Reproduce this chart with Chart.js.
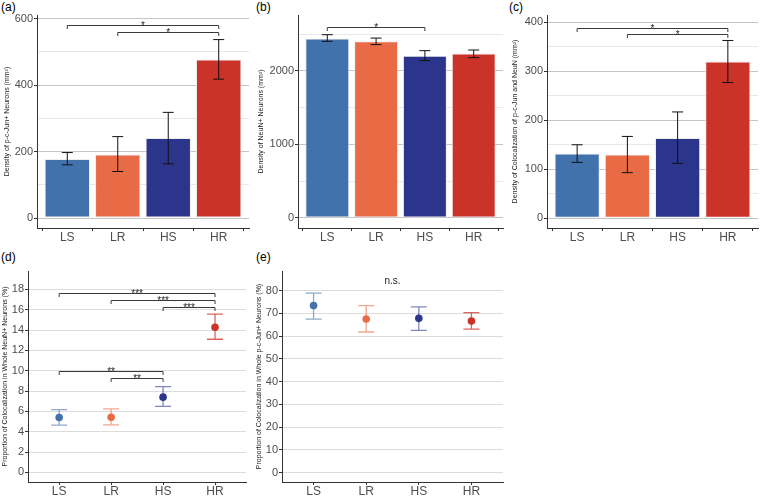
<!DOCTYPE html>
<html>
<head>
<meta charset="utf-8">
<script src="https://cdn.jsdelivr.net/npm/chart.js@4"></script>
<style>
  body { margin: 0; background: #fff; }
  #page { position: relative; width: 760px; height: 496px; overflow: hidden; }
  .panel { position: absolute; }
  .tag { position: absolute; font: 12px "Liberation Sans", Arial, sans-serif; color: #000; }
</style>
</head>
<body>
<div id="page">
  <div class="tag" style="left:1px;top:0px">(a)</div>
  <div class="tag" style="left:256px;top:0px">(b)</div>
  <div class="tag" style="left:509px;top:0px">(c)</div>
  <div class="tag" style="left:1px;top:250px">(d)</div>
  <div class="tag" style="left:256px;top:250px">(e)</div>
</div>
<script>
const categories = ['LS', 'LR', 'HS', 'HR'];
const groupColors = ['#4272ac', '#e96b45', '#2c358c', '#cb3328'];
const groupErrColors = ['rgba(66,114,172,0.6)', 'rgba(233,107,69,0.6)', 'rgba(44,53,140,0.6)', 'rgba(203,51,40,0.75)'];

// (a) p-c-Jun+ density
const aMeans = [178, 191, 241, 477];
const aLow = [160, 140, 163, 418];
const aHigh = [197, 245, 318, 537];
const aBrackets = [['LS', 'HR', 581, '*'], ['LR', 'HR', 559, '*']];

// (b) NeuN+ density
const bMeans = [2442, 2402, 2207, 2235];
const bLow = [2402, 2357, 2140, 2180];
const bHigh = [2492, 2446, 2275, 2284];
const bBrackets = [['LS', 'HS', 2596, '*']];

// (c) colocalization density
const cMeans = [132, 130, 164, 320];
const cLow = [114, 93, 112, 277];
const cHigh = [150, 167, 217, 363];
const cBrackets = [['LS', 'HR', 388, '*'], ['LR', 'HR', 376, '*']];

// (d) proportion in NeuN+
const dMeans = [5.4, 5.43, 7.4, 14.27];
const dLow = [4.65, 4.68, 6.5, 13.09];
const dHigh = [6.18, 6.25, 8.44, 15.57];
const dBrackets = [['LS', 'HR', 17.67, '***'], ['LR', 'HR', 16.95, '***'], ['HS', 'HR', 16.29, '***'],
                   ['LS', 'HS', 10.0, '**'], ['LR', 'HS', 9.26, '**']];

// (e) proportion in p-c-Jun+
const eMeans = [73.4, 67.5, 67.8, 66.6];
const eLow = [67.5, 61.8, 62.5, 63.1];
const eHigh = [78.9, 73.4, 72.8, 70.3];
const eNote = ['LR', 'HS', 83.9, 'n.s.'];

const FONT = '"Liberation Sans", Arial, sans-serif';

// error bars + significance brackets, all positioned through the chart scales
const annotate = {
    id: 'annotate',
    draw(chart) {
        const o = chart.options.plugins.annotate;
        const x = chart.scales.x, y = chart.scales.y;
        const ctx = chart.ctx;
        ctx.save();
        o.low.forEach((lo, i) => {
            const px = x.getPixelForValue(i + 1);
            const y0 = y.getPixelForValue(lo), y1 = y.getPixelForValue(o.high[i]);
            ctx.strokeStyle = o.errColors ? o.errColors[i] : '#111';
            ctx.lineWidth = o.errWidth;
            ctx.beginPath();
            ctx.moveTo(px, y0); ctx.lineTo(px, y1);
            ctx.moveTo(px - o.cap / 2, y0); ctx.lineTo(px + o.cap / 2, y0);
            ctx.moveTo(px - o.cap / 2, y1); ctx.lineTo(px + o.cap / 2, y1);
            ctx.stroke();
        });
        ctx.strokeStyle = '#3a3a3a';
        ctx.fillStyle = '#222';
        ctx.lineWidth = 1;
        ctx.font = '10px ' + FONT;
        ctx.textAlign = 'center';
        (o.brackets || []).forEach(([from, to, v, label]) => {
            const x0 = x.getPixelForValue(categories.indexOf(from) + 1);
            const x1 = x.getPixelForValue(categories.indexOf(to) + 1);
            const py = Math.round(y.getPixelForValue(v)) + 0.5;
            ctx.beginPath();
            ctx.moveTo(x0, py + 3.5); ctx.lineTo(x0, py); ctx.lineTo(x1, py); ctx.lineTo(x1, py + 3.5);
            ctx.stroke();
            ctx.textBaseline = 'alphabetic';
            ctx.fillText(label, (x0 + x1) / 2, py + 3.5);
        });
        if (o.note) {
            const [from, to, v, label] = o.note;
            const xm = (x.getPixelForValue(categories.indexOf(from) + 1) + x.getPixelForValue(categories.indexOf(to) + 1)) / 2;
            ctx.textBaseline = 'middle';
            ctx.fillText(label, xm, y.getPixelForValue(v));
        }
        ctx.restore();
    },
    beforeDatasetsDraw(chart) { if (!chart.options.plugins.annotate.onTop) this.draw(chart); },
    afterDatasetsDraw(chart) { if (chart.options.plugins.annotate.onTop) this.draw(chart); }
};

function makePanel(p) {
    const box = document.createElement('div');
    box.className = 'panel';
    Object.assign(box.style, { left: p.cx + 'px', top: p.cy + 'px', width: p.cw + 'px', height: p.ch + 'px' });
    const canvas = document.createElement('canvas');
    canvas.width = p.cw; canvas.height = p.ch;
    box.appendChild(canvas);
    document.getElementById('page').appendChild(box);

    const isMajor = v => p.major.includes(v);
    const isBar = p.kind === 'bar';
    const data = p.means.map((m, i) => ({ x: i + 1, y: m }));

    new Chart(canvas, {
        type: isBar ? 'bar' : 'scatter',
        data: {
            datasets: [{
                data,
                backgroundColor: groupColors,
                borderColor: isBar ? 'rgba(235,235,235,0.9)' : groupColors,
                borderWidth: isBar ? 1 : 0,
                borderSkipped: false,
                barPercentage: 0.9,
                categoryPercentage: 1.0,
                pointRadius: 3.8,
                pointHoverRadius: 3.8
            }]
        },
        options: {
            responsive: false,
            animation: false,
            events: [],
            layout: { padding: { top: p.pt - p.cy, right: p.cx + p.cw - p.pr, left: 0, bottom: 0 } },
            plugins: {
                legend: { display: false },
                tooltip: { enabled: false },
                annotate: {
                    low: p.low, high: p.high, brackets: p.brackets, note: p.note,
                    cap: isBar ? 11 : 16, errWidth: isBar ? 1 : 1.3,
                    errColors: isBar ? null : groupErrColors, onTop: isBar
                }
            },
            scales: {
                x: {
                    type: 'linear', min: 0.4, max: 4.6, offset: false,
                    afterBuildTicks: s => { s.ticks = categories.map((c, i) => ({ value: i + 1 })); },
                    afterFit: s => { s.height = p.cy + p.ch - p.pb; },
                    ticks: { autoSkip: false, maxRotation: 0, padding: -1, color: '#4d4d4d',
                             font: { family: FONT, size: 12 }, callback: v => categories[v - 1] },
                    grid: { drawOnChartArea: false, tickLength: 3, color: '#333' },
                    border: { display: true, color: '#333', width: 1 }
                },
                y: {
                    min: p.ymin, max: p.ymax,
                    afterBuildTicks: s => { s.ticks = p.major.concat(p.minor).sort((a, b) => a - b).map(v => ({ value: v })); },
                    afterFit: s => { s.width = p.pl - p.cx; },
                    ticks: { padding: 1, color: '#4d4d4d', font: { family: FONT, size: 11 },
                             callback: v => isMajor(v) ? String(v) : '' },
                    grid: {
                        tickLength: 3,
                        color: c => isMajor(c.tick.value) ? p.majorColor : '#e8e8e8',
                        tickColor: c => isMajor(c.tick.value) ? '#333' : 'rgba(0,0,0,0)',
                        lineWidth: 1
                    },
                    border: { display: true, color: '#333', width: 1 },
                    title: { display: true, text: p.title, color: '#222', padding: { top: p.titlePad, bottom: 0 },
                             font: { family: FONT, size: 7 } }
                }
            }
        },
        plugins: [annotate]
    });
}

makePanel({ kind: 'bar', cx: 0, cy: 0, cw: 250, ch: 250, pl: 37, pt: 15, pr: 249, pb: 228,
    means: aMeans, low: aLow, high: aHigh, brackets: aBrackets,
    ymin: -30, ymax: 611, major: [0, 200, 400, 600], minor: [100, 300, 500], majorColor: '#c4c4c4',
    title: 'Density of p-c-Jun+ Neurons (mm²)', titlePad: 3 });

makePanel({ kind: 'bar', cx: 250, cy: 0, cw: 255, ch: 250, pl: 298, pt: 15, pr: 503, pb: 228,
    means: bMeans, low: bLow, high: bHigh, brackets: bBrackets,
    ymin: -136, ymax: 2760, major: [0, 1000, 2000], minor: [500, 1500, 2500], majorColor: '#c4c4c4',
    title: 'Density of NeuN+ Neurons (mm²)', titlePad: 7 });

makePanel({ kind: 'bar', cx: 505, cy: 0, cw: 255, ch: 250, pl: 547, pt: 15, pr: 758, pb: 228,
    means: cMeans, low: cLow, high: cHigh, brackets: cBrackets,
    ymin: -20, ymax: 415, major: [0, 100, 200, 300, 400], minor: [50, 150, 250, 350], majorColor: '#c4c4c4',
    title: 'Density of Colocalization of p-c-Jun and NeuN (mm²)', titlePad: 6 });

makePanel({ kind: 'point', cx: 0, cy: 250, cw: 250, ch: 246, pl: 28, pt: 271, pr: 249, pb: 482,
    means: dMeans, low: dLow, high: dHigh, brackets: dBrackets,
    ymin: -0.94, ymax: 19.8, major: [0, 2, 4, 6, 8, 10, 12, 14, 16, 18], minor: [], majorColor: '#dcdcdc',
    title: 'Proportion of Colocalization in Whole NeuN+ Neurons (%)', titlePad: 1 });

makePanel({ kind: 'point', cx: 250, cy: 250, cw: 260, ch: 246, pl: 282, pt: 271, pr: 503, pb: 482,
    means: eMeans, low: eLow, high: eHigh, brackets: [], note: eNote,
    ymin: -4.1, ymax: 88.6, major: [0, 10, 20, 30, 40, 50, 60, 70, 80], minor: [], majorColor: '#dcdcdc',
    title: 'Proportion of Colocalization in Whole p-c-Jun+ Neurons (%)', titlePad: 5 });
</script>
</body>
</html>
